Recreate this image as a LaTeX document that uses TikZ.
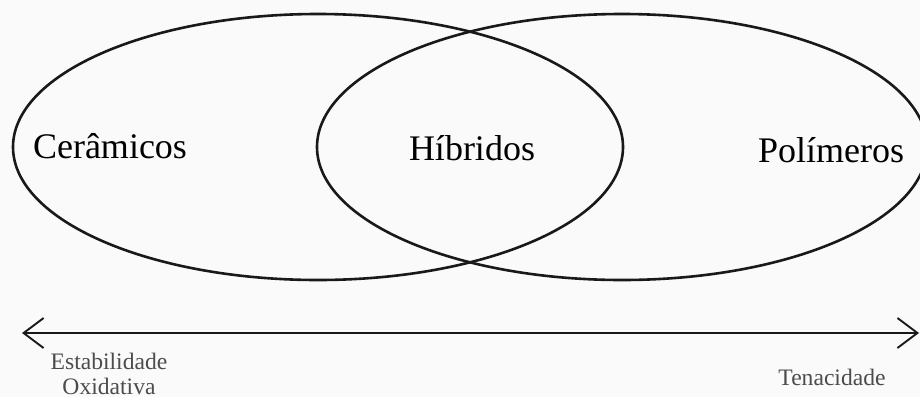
\documentclass[tikz,border=0pt]{standalone}
\usepackage{fontspec}
\setmainfont{Liberation Serif}
\usetikzlibrary{arrows.meta}
\begin{document}
\begin{tikzpicture}[x=0.5pt,y=-0.5pt,
  ring/.style={line width=1.3pt, black!90},
  biglabel/.style={font=\fontsize{18}{20}\selectfont, text=black, inner sep=0pt},
  axislabel/.style={font=\fontsize{11.8}{12.6}\selectfont, text=black!70, inner sep=0pt, align=center},
  axis/.style={line width=0.95pt, black!90, {Straight Barb[length=10pt,width=15pt,line width=0.95pt]}-{Straight Barb[length=10pt,width=15pt,line width=0.95pt]}}]
  \useasboundingbox (0,0) rectangle (920,397);
  \fill[white!98!black] (0,0) rectangle (920,397);

  % the two overlapping sets
  \draw[ring] (318,147) ellipse [x radius=305, y radius=133];
  \draw[ring] (622,147) ellipse [x radius=305, y radius=133];

  \node[biglabel, anchor=base] (ceramicos) at (110,158) {Cerâmicos};
  \node[biglabel, anchor=base] (hibridos)  at (472,160) {Híbridos};
  \node[biglabel, anchor=base] (polimeros) at (831,162) {Polímeros};

  % property axis
  \coordinate (left) at (22,333);
  \coordinate (right) at (919,333);
  \draw[axis] (left) -- (right);

  \node[axislabel, anchor=south] (estab) at (109,395) {Estabilidade\\Oxidativa};
  \node[axislabel] (tenac) at (832,377) {Tenacidade};
\end{tikzpicture}
\end{document}
